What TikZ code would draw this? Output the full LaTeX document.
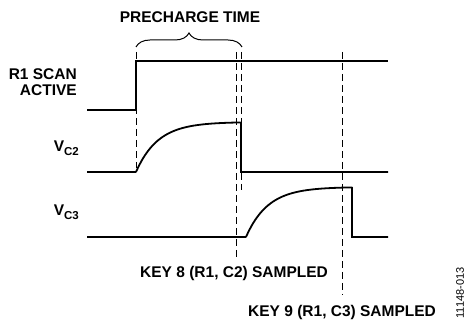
\documentclass[tikz,border=0pt]{standalone}
\usepackage{fontspec}
\setmainfont{Liberation Sans}
\usetikzlibrary{decorations.pathreplacing}
\newcommand{\mysub}[1]{\raisebox{-3.5pt}{\fontsize{11.5}{11.5}\selectfont\bfseries #1}}
\begin{document}
\begin{tikzpicture}[x=1pt,y=-1pt,
  sig/.style={line width=1.8pt, line join=miter},
  guide/.style={line width=1pt, dash pattern=on 7pt off 4pt},
  lbl/.style={font=\fontsize{15.5}{15.5}\selectfont\bfseries, inner sep=0pt}]
\useasboundingbox (0,0) rectangle (466,320);
% R1 scan active
\draw[sig] (87,110) -- (136,110) -- (136,61) -- (388,61);
% VC2
\draw[sig] (87,172) -- (136,172)
  plot[domain=0:104, samples=60] ({136+\x},{172-50*(1-exp(-\x/22))})
  -- (241,123) -- (241,172) -- (388,172);
% VC3
\draw[sig] (87,237) -- (246,237)
  plot[domain=0:106, samples=60] ({246+\x},{237-50*(1-exp(-\x/22))})
  -- (352,187) -- (352,237) -- (388,237);
% guides
\draw[guide] (136,52) -- (136,168);
\draw[guide] (236,52) -- (236,258);
\draw[guide] (241,52) -- (241,190);
\draw[guide] (342,52) -- (342,295);
% brace
\draw[line width=1pt, decorate, decoration={brace, amplitude=14pt}] (136,47) -- (242,47);
% labels
\node[lbl] (pt) at (190,17) {PRECHARGE TIME};
\node[lbl, anchor=east, align=right] (r1) at (77,82) {R1 SCAN\\[0pt]ACTIVE};
\node[lbl, anchor=base east] (vc2) at (79,152) {V\mysub{C2}};
\node[lbl, anchor=base east] (vc3) at (79,216) {V\mysub{C3}};
\node[lbl, anchor=west] (k8) at (140,273) {KEY 8 (R1, C2) SAMPLED};
\node[lbl, anchor=west] (k9) at (248,312) {KEY 9 (R1, C3) SAMPLED};
\node[font=\fontsize{11}{11}\selectfont, rotate=90, inner sep=0pt] (id) at (460,293) {11148-013};
\end{tikzpicture}
\end{document}
